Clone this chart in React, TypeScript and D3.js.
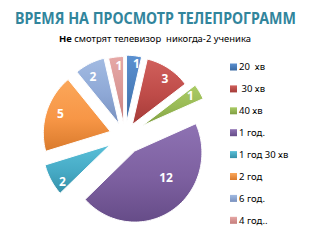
import React from "react";
import * as d3 from "d3";

const categories = ["20  хв", " 30 хв", "40 хв", "1 год.", "1 год 30 хв", "2 год", "6 год.", "4 год.."];
const values = [1, 3, 1, 12, 2, 5, 2, 1];
const colors = ["#4A7EBB", "#BE4B48", "#98B954", "#7D60A0", "#46AAC5", "#F79646", "#8EA8D6", "#D99694"];
const lightColors = ["#5B90D0", "#D0605C", "#ABCC66", "#8E72B3", "#58BFD8", "#FBA75A", "#A2BBE2", "#E6A8A6"];
const darkColors = ["#3A6AA3", "#A43B38", "#7F9E42", "#664C88", "#3590A8", "#D97A2C", "#7890BE", "#C47C7A"];
const explodes = [0.2, 0.2, 0.3, 0.26, 0.26, 0.23, 0.2, 0.18];
const labelRadius = [0.89, 0.84, 0.85, 0.6, 0.87, 0.79, 0.8, 0.87];
const labelShiftDeg = [3, 3, -1, -17, -7, 2, -3, 2];
const title = "ВРЕМЯ НА ПРОСМОТР ТЕЛЕПРОГРАММ";
const subtitleBold = "Не";
const subtitleRest = " смотрят телевизор  никогда-2 ученика";

const W = 311;
const H = 241;
const cx = 125;
const cy = 136;
const RX = 67;
const RY = 69;
const K = 0.02;

function proj(u: number, v: number): [number, number] {
  const s = 1 / (1 - K * v);
  return [cx + RX * u * s, cy + RY * v * s];
}

export default function App() {
  const pie = d3.pie<number>().sort(null).value((d) => d);
  const arcs = pie(values);
  const line = d3.line<[number, number]>().curve(d3.curveLinearClosed);

  const slices = arcs.map((a, i) => {
    const m = (a.startAngle + a.endAngle) / 2;
    const e = explodes[i];
    const eu = e * Math.sin(m);
    const ev = -e * Math.cos(m);
    const pts: [number, number][] = [proj(eu, ev)];
    const n = Math.max(4, Math.ceil(((a.endAngle - a.startAngle) * 180) / Math.PI / 2));
    d3.range(n + 1).forEach((k) => {
      const t = a.startAngle + ((a.endAngle - a.startAngle) * k) / n;
      pts.push(proj(eu + Math.sin(t), ev - Math.cos(t)));
    });
    const lf = labelRadius[i];
    const lm = m + (labelShiftDeg[i] * Math.PI) / 180;
    const lp = proj(eu + lf * Math.sin(lm), ev - lf * Math.cos(lm));
    return { d: line(pts) as string, lp, i, v: a.data };
  });

  const legendY = d3.range(categories.length).map((i) => 67 + i * 21.9);

  return (
    <svg width={W} height={H} style={{ position: "absolute", left: 0, top: 0, background: "#fff" }}>
      <defs>
        {colors.map((c, i) => (
          <linearGradient key={i} id={`g${i}`} x1="0" y1="0" x2="0" y2="1">
            <stop offset="0%" stopColor={lightColors[i]} />
            <stop offset="55%" stopColor={c} />
            <stop offset="100%" stopColor={darkColors[i]} />
          </linearGradient>
        ))}
        {colors.map((c, i) => (
          <linearGradient key={`l${i}`} id={`lg${i}`} x1="0" y1="0" x2="0" y2="1">
            <stop offset="0%" stopColor={lightColors[i]} />
            <stop offset="100%" stopColor={darkColors[i]} />
          </linearGradient>
        ))}
      </defs>
      <g transform={`translate(${W / 2},24) scale(0.92,1)`}>
        <text
          x={0}
          y={0}
          textAnchor="middle"
          fontFamily="'Noto Sans', 'Open Sans', sans-serif"
          fontWeight="bold"
          fontSize={15.5}
          fill="#31859C"
        >
          {title}
        </text>
      </g>
      <text
        x={155}
        y={42}
        textAnchor="middle"
        fontFamily="'Noto Sans', 'Open Sans', sans-serif"
        fontSize={9}
        fill="#000"
        textLength={192}
        lengthAdjust="spacingAndGlyphs"
        style={{ whiteSpace: "pre" }}
      >
        <tspan fontWeight="bold">{subtitleBold}</tspan>
        {subtitleRest}
      </text>
      {slices.map((s) => (
        <path key={s.i} d={s.d} fill={`url(#g${s.i})`} stroke="#fff" strokeWidth={1} strokeLinejoin="round" />
      ))}
      {slices.map((s) => (
        <text
          key={`t${s.i}`}
          x={s.lp[0]}
          y={s.lp[1]}
          dy="0.35em"
          textAnchor="middle"
          fontFamily="'Noto Sans', 'Open Sans', sans-serif"
          fontWeight="bold"
          fontSize={12}
          fill="#fff"
        >
          {s.v}
        </text>
      ))}
      {categories.map((c, i) => (
        <g key={`lg${i}`}>
          <rect x={230} y={legendY[i] - 3.5} width={7} height={7} fill={`url(#lg${i})`} />
          <text
            x={239}
            y={legendY[i]}
            dy="0.35em"
            fontFamily="'Noto Sans', 'Open Sans', sans-serif"
            fontSize={9.5}
            fill="#000"
            style={{ whiteSpace: "pre" }}
          >
            {c}
          </text>
        </g>
      ))}
    </svg>
  );
}
